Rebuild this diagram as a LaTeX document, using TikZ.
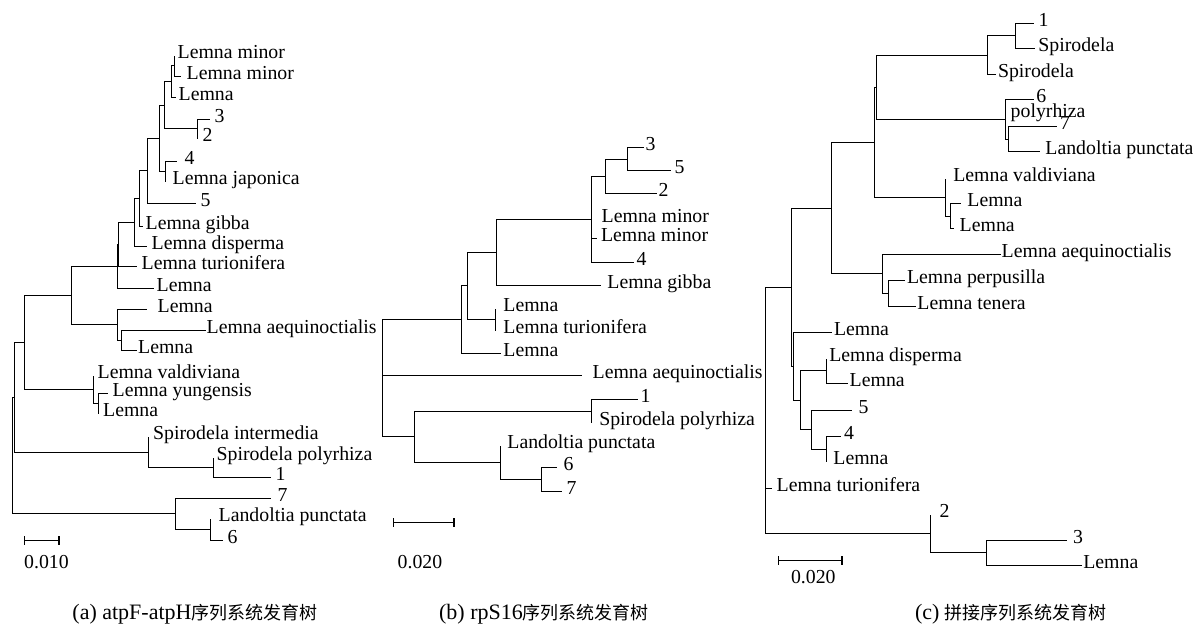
\documentclass[tikz,border=0pt]{standalone}
\usepackage{fontspec}
\setmainfont{Liberation Serif}
\newfontfamily\cjkfont{Noto Sans CJK SC}
\newcommand\labfont{\fontsize{19.8}{22}\selectfont}
\newcommand\capfont{\fontsize{22}{26}\selectfont}
\newcommand\capcjk{\fontsize{18}{21}\selectfont\cjkfont}

\begin{document}
\begin{tikzpicture}[x=1pt,y=-1pt,
    br/.style={line width=1.4pt},
    leaf/.style={anchor=west,inner xsep=3pt,inner ysep=0pt,text height=0.66em,text depth=0pt,font=\labfont},
    bar/.style={|-|,line width=1.4pt},
    captxt/.style={font=\capfont}]
\useasboundingbox (0,0) rectangle (1197,632);

% (a) atpF-atpH
\node[leaf] (aL1) at (174.5,55.5) {Lemna minor};
\node[leaf,inner xsep=6pt] (aL2) at (180.5,76.5) {Lemna minor};
\node[leaf] (aL3) at (175.5,97.5) {Lemna};
\node[leaf,inner xsep=5pt] (aL4) at (209.5,119.5) {3};
\node[leaf,inner xsep=5pt] (aL5) at (197.5,138.5) {2};
\node[leaf,inner xsep=8pt] (aL6) at (176.5,161.5) {4};
\node[leaf,inner xsep=7pt] (aL7) at (165.5,181.5) {Lemna japonica};
\node[leaf,inner xsep=5pt] (aL8) at (195.5,203.5) {5};
\node[leaf] (aL9) at (142.5,226.5) {Lemna gibba};
\node[leaf,inner xsep=5pt] (aL10) at (146.5,246.5) {Lemna disperma};
\node[leaf,inner xsep=5pt] (aL11) at (136.5,266.5) {Lemna turionifera};
\node[leaf] (aL12) at (153.5,288.5) {Lemna};
\node[leaf,inner xsep=11pt] (aL13) at (146.5,309.5) {Lemna};
\node[leaf,inner xsep=1pt] (aL14) at (205.5,330.5) {Lemna aequinoctialis};
\node[leaf,inner xsep=1.5pt] (aL15) at (136.5,350.5) {Lemna};
\node[leaf,inner xsep=4pt] (aL16) at (93.5,375.5) {Lemna valdiviana};
\node[leaf,inner xsep=5pt] (aL17) at (107.5,393.5) {Lemna yungensis};
\node[leaf,inner xsep=4.5pt] (aL18) at (98.5,413.5) {Lemna};
\node[leaf,inner xsep=4.5pt] (aL19) at (148.5,436.5) {Spirodela intermedia};
\node[leaf] (aL20) at (213.5,457.5) {Spirodela polyrhiza};
\node[leaf,inner xsep=5pt] (aL21) at (270.5,477.5) {1};
\node[leaf,inner xsep=7pt] (aL22) at (270.5,498.5) {7};
\node[leaf,inner xsep=8pt] (aL23) at (210.5,518.5) {Landoltia punctata};
\node[leaf,inner xsep=5pt] (aL24) at (222.5,540.5) {6};

\coordinate (aA) at (174.5,65.5);
\coordinate (aB) at (171.5,81.5);
\coordinate (aC) at (164.5,105.5);
\coordinate (aD) at (197.5,128.5);
\coordinate (aE) at (159.5,138.5);
\coordinate (aF) at (165.5,171.5);
\coordinate (aG) at (147.5,170.5);
\coordinate (aH) at (139.5,198.5);
\coordinate (aI) at (134.5,222.5);
\coordinate (aJ) at (118.5,244.5);
\coordinate (aK) at (117.5,266.5);
\coordinate (aL) at (71.5,295.5);
\coordinate (aM) at (117.5,324.5);
\coordinate (aN) at (121.5,340.5);
\coordinate (aO) at (24.5,342.5);
\coordinate (aP) at (93.5,389.5);
\coordinate (aQ) at (98.5,403.5);
\coordinate (aR) at (14.5,397.5);
\coordinate (aS) at (148.5,452.5);
\coordinate (aT) at (213.5,467.5);
\coordinate (aU) at (175.5,513.5);
\coordinate (aV) at (210.5,529.5);
\coordinate (aRoot) at (12.5,455.5);

\draw[br] (aA) |- (aL1.west) (aA) |- (aL2.west);
\draw[br] (aB) |- (aA) (aB) |- (aL3.west);
\draw[br] (aD) |- (aL4.west) (aD) |- (aL5.west);
\draw[br] (aC) |- (aB) (aC) |- (aD);
\draw[br] (aF) |- (aL6.west) (aF) |- (aL7.west);
\draw[br] (aE) |- (aC) (aE) |- (aF);
\draw[br] (aG) |- (aE) (aG) |- (aL8.west);
\draw[br] (aH) |- (aG) (aH) |- (aL9.west);
\draw[br] (aI) |- (aH) (aI) |- (aL10.west);
\draw[br] (aJ) |- (aI) (aJ) |- (aL11.west);
\draw[br] (aK) |- (aJ) (aK) |- (aL12.west);
\draw[br] (aN) |- (aL14.west) (aN) |- (aL15.west);
\draw[br] (aM) |- (aL13.west) (aM) |- (aN);
\draw[br] (aL) |- (aK) (aL) |- (aM);
\draw[br] (aQ) |- (aL17.west) (aQ) |- (aL18.west);
\draw[br] (aP) |- (aL16.west) (aP) |- (aQ);
\draw[br] (aO) |- (aL) (aO) |- (aP);
\draw[br] (aT) |- (aL20.west) (aT) |- (aL21.west);
\draw[br] (aS) |- (aL19.west) (aS) |- (aT);
\draw[br] (aR) |- (aO) (aR) |- (aS);
\draw[br] (aV) |- (aL23.west) (aV) |- (aL24.west);
\draw[br] (aU) |- (aL22.west) (aU) |- (aV);
\draw[br] (aRoot) |- (aR) (aRoot) |- (aU);

\coordinate (aBar0) at (23.5,540.5);
\coordinate (aBar1) at (59.5,540.5);
\draw[bar] (aBar0) -- (aBar1);
\node[font=\labfont] (aScale) at (46.5,562.3) {0.010};

% (b) rpS16
\node[leaf,inner xsep=2pt] (bL1) at (643.5,147.5) {3};
\node[leaf,inner xsep=4pt] (bL2) at (670.5,170.5) {5};
\node[leaf,inner xsep=2pt] (bL3) at (656.5,193.5) {2};
\node[leaf,inner xsep=10pt] (bL4) at (591.5,219.5) {Lemna minor};
\node[leaf,inner xsep=4.3pt] (bL5) at (596.5,238.5) {Lemna minor};
\node[leaf,inner xsep=3pt] (bL6) at (633.5,262.5) {4};
\node[leaf,inner xsep=6.7pt] (bL7) at (600.5,285.5) {Lemna gibba};
\node[leaf,inner xsep=7.7pt] (bL8) at (495.5,308.5) {Lemna};
\node[leaf,inner xsep=7.7pt] (bL9) at (495.5,330.5) {Lemna turionifera};
\node[leaf,inner xsep=2.7pt] (bL10) at (500.5,353.5) {Lemna};
\node[leaf,inner xsep=11pt] (bL11) at (581.5,375.5) {Lemna aequinoctialis};
\node[leaf,inner xsep=3pt] (bL12) at (637.5,399.5) {1};
\node[leaf,inner xsep=7.6pt] (bL13) at (591.5,422.5) {Spirodela polyrhiza};
\node[leaf,inner xsep=6.7pt] (bL14) at (500.5,445.5) {Landoltia punctata};
\node[leaf,inner xsep=7pt] (bL15) at (556.5,467.5) {6};
\node[leaf,inner xsep=5pt] (bL16) at (561.5,491.5) {7};

\coordinate (bA) at (627.5,159.5);
\coordinate (bB) at (605.5,176.5);
\coordinate (bC) at (591.5,219.5);
\coordinate (bD) at (496.5,252.5);
\coordinate (bE) at (495.5,319.5);
\coordinate (bF) at (467.5,285.5);
\coordinate (bG) at (461.5,319.5);
\coordinate (bH) at (414.5,436.5);
\coordinate (bI) at (500.5,462.5);
\coordinate (bJ) at (591.5,411.5);
\coordinate (bK) at (541.5,479.5);
\coordinate (bRoot) at (382.5,378.5);

\draw[br] (bA) |- (bL1.west) (bA) |- (bL2.west);
\draw[br] (bB) |- (bA) (bB) |- (bL3.west);
\draw[br] (bC) |- (bB) (bC) |- (bL4.west) (bC) |- (bL5.west) (bC) |- (bL6.west);
\draw[br] (bD) |- (bC) (bD) |- (bL7.west);
\draw[br] (bE) |- (bL8.west) (bE) |- (bL9.west);
\draw[br] (bF) |- (bD) (bF) |- (bE);
\draw[br] (bG) |- (bF) (bG) |- (bL10.west);
\draw[br] (bJ) |- (bL12.west) (bJ) |- (bL13.west);
\draw[br] (bK) |- (bL15.west) (bK) |- (bL16.west);
\draw[br] (bI) |- (bL14.west) (bI) |- (bK);
\draw[br] (bH) |- (bJ) (bH) |- (bI);
\draw[br] (bRoot) |- (bG) (bRoot) |- (bL11.west) (bRoot) |- (bH);

\coordinate (bBar0) at (392.5,522.5);
\coordinate (bBar1) at (454.5,522.5);
\draw[bar] (bBar0) -- (bBar1);
\node[font=\labfont] (bScale) at (420,561.7) {0.020};

% (c) concatenated
\node[leaf,inner xsep=5pt] (cL1) at (1033.5,23.5) {1};
\node[leaf,inner xsep=3.7pt] (cL2) at (1034.5,48.5) {Spirodela};
\node[leaf,inner xsep=2.3pt] (cL3) at (995.5,74.5) {Spirodela};
\node[leaf,inner xsep=2.7pt] (cL4) at (1033.5,99.5) {6};
\node[leaf,inner xsep=5pt] (cL5) at (1005.5,114.5) {polyrhiza};
\node[leaf,inner xsep=3.3pt] (cL6) at (1056.5,126.5) {7};
\node[leaf,inner xsep=5.7pt] (cL7) at (1039.5,151.5) {Landoltia punctata};
\node[leaf,inner xsep=7.6pt] (cL8) at (945.5,178.5) {Lemna valdiviana};
\node[leaf,inner xsep=6.7pt] (cL9) at (960.5,203.5) {Lemna};
\node[leaf,inner xsep=6pt] (cL10) at (953.5,228.5) {Lemna};
\node[leaf,inner xsep=1pt] (cL11) at (1000.5,254.5) {Lemna aequinoctialis};
\node[leaf,inner xsep=2.4pt] (cL12) at (904.5,280.5) {Lemna perpusilla};
\node[leaf,inner xsep=1.7pt] (cL13) at (915.5,306.5) {Lemna tenera};
\node[leaf,inner xsep=2.3pt] (cL14) at (831.5,332.5) {Lemna};
\node[leaf,inner xsep=2.6pt] (cL15) at (826.5,358.5) {Lemna disperma};
\node[leaf,inner xsep=2pt] (cL16) at (847.5,383.5) {Lemna};
\node[leaf,inner xsep=7pt] (cL17) at (851.5,410.5) {5};
\node[leaf,inner xsep=3.3pt] (cL18) at (840.5,436.5) {4};
\node[leaf,inner xsep=6.7pt] (cL19) at (826.5,461.5) {Lemna};
\node[leaf,inner xsep=5pt] (cL20) at (771.5,488.5) {Lemna turionifera};
\node[leaf,inner xsep=9pt] (cL21) at (930.5,514.5) {2};
\node[leaf,inner xsep=6.5pt] (cL22) at (1066.5,540.5) {3};
\node[leaf,inner xsep=1.6pt] (cL23) at (1081.5,565.5) {Lemna};

\coordinate (cA) at (1015.5,35.5);
\coordinate (cB) at (987.5,55.5);
\coordinate (cC) at (1005.5,119.5);
\coordinate (cD) at (1008.5,139.5);
\coordinate (cE) at (876.5,87.5);
\coordinate (cF) at (945.5,197.5);
\coordinate (cG) at (950.5,216.5);
\coordinate (cH) at (874.5,142.5);
\coordinate (cI) at (882.5,273.5);
\coordinate (cJ) at (888.5,293.5);
\coordinate (cK) at (831.5,208.5);
\coordinate (cM) at (800.5,400.5);
\coordinate (cN) at (826.5,370.5);
\coordinate (cO) at (811.5,429.5);
\coordinate (cP) at (826.5,449.5);
\coordinate (cQ) at (793.5,366.5);
\coordinate (cR) at (791.5,287.5);
\coordinate (cS) at (930.5,533.5);
\coordinate (cT) at (986.5,552.5);
\coordinate (cRoot) at (765.5,410.5);

\draw[br] (cA) |- (cL1.west) (cA) |- (cL2.west);
\draw[br] (cB) |- (cA) (cB) |- (cL3.west);
\draw[br] (cD) |- (cL6.west) (cD) |- (cL7.west);
\draw[br] (cC) |- (cL4.west) (cC) |- (cL5.west) (cC) |- (cD);
\draw[br] (cE) |- (cB) (cE) |- (cC);
\draw[br] (cG) |- (cL9.west) (cG) |- (cL10.west);
\draw[br] (cF) |- (cL8.west) (cF) |- (cG);
\draw[br] (cH) |- (cE) (cH) |- (cF);
\draw[br] (cJ) |- (cL12.west) (cJ) |- (cL13.west);
\draw[br] (cI) |- (cL11.west) (cI) |- (cJ);
\draw[br] (cK) |- (cH) (cK) |- (cI);
\draw[br] (cN) |- (cL15.west) (cN) |- (cL16.west);
\draw[br] (cP) |- (cL18.west) (cP) |- (cL19.west);
\draw[br] (cO) |- (cL17.west) (cO) |- (cP);
\draw[br] (cM) |- (cN) (cM) |- (cO);
\draw[br] (cQ) |- (cL14.west) (cQ) |- (cM);
\draw[br] (cR) |- (cK) (cR) |- (cQ);
\draw[br] (cT) |- (cL22.west) (cT) |- (cL23.west);
\draw[br] (cS) |- (cL21.west) (cS) |- (cT);
\draw[br] (cRoot) |- (cR) (cRoot) |- (cL20.west) (cRoot) |- (cS);

\coordinate (cBar0) at (777.5,560.5);
\coordinate (cBar1) at (842.5,560.5);
\draw[bar] (cBar0) -- (cBar1);
\node[font=\labfont] (cScale) at (813.3,576.7) {0.020};

% captions
\node[captxt] (capA) at (195,614) {(a) atpF-atpH{\capcjk 序列系统发育树}};
\node[captxt] (capB) at (544,614) {(b) rpS16{\capcjk 序列系统发育树}};
\node[captxt] (capC) at (1011,614) {(c) {\capcjk 拼接序列系统发育树}};
\end{tikzpicture}
\end{document}
